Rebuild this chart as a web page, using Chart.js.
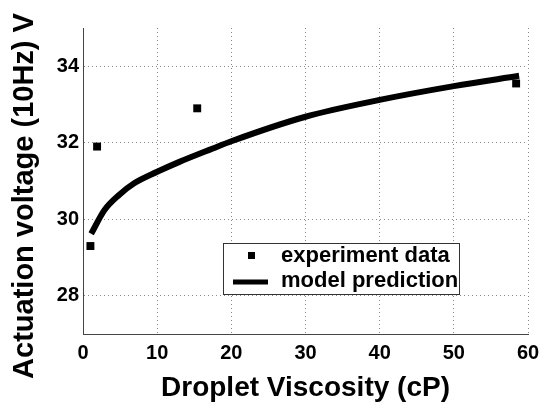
<!DOCTYPE html>
<html>
<head>
<meta charset="utf-8">
<script src="https://cdn.jsdelivr.net/npm/chart.js@4"></script>
<style>
  html, body { margin: 0; padding: 0; background: #fff; }
</style>
</head>
<body>
<canvas id="viscChart" width="549" height="407"></canvas>
<script>
// measured points
const expViscosity = [1.0, 1.9, 15.4, 58.4];
const expVoltage = [29.3, 31.9, 32.9, 33.55];

// model curve
const modelViscosity = [1.1, 2.9, 4.9, 6.9, 10, 13, 17.5, 20, 30, 40, 50, 58.8];
const modelVoltage = [29.62, 30.24, 30.64, 30.94, 31.24, 31.5, 31.85, 32.04, 32.68, 33.12, 33.48, 33.75];

const xTicks = [0, 10, 20, 30, 40, 50, 60];
const yTicks = [28, 30, 32, 34];

const FONT = '"Liberation Sans", Arial, Helvetica, sans-serif';

function toPoints(xs, ys) {
    return xs.map((x, i) => ({ x: x, y: ys[i] }));
}

// y title drawn by hand so it can sit a bit lower than the axis centre
const yTitle = {
    id: 'yTitle',
    afterDraw(chart) {
        const ctx = chart.ctx;
        ctx.save();
        ctx.translate(25, 196);
        ctx.rotate(-Math.PI / 2);
        ctx.font = 'bold 29px ' + FONT;
        ctx.fillStyle = '#000';
        ctx.textAlign = 'center';
        ctx.textBaseline = 'middle';
        ctx.fillText('Actuation voltage (10Hz) V', 0, 0);
        ctx.restore();
    }
};

// boxed legend inside the plot, like the original
const boxLegend = {
    id: 'boxLegend',
    afterDatasetsDraw(chart) {
        const ctx = chart.ctx;
        const ds = chart.data.datasets;
        const left = 223, top = 243, w = 236, h = 51;
        ctx.save();
        ctx.fillStyle = '#fff';
        ctx.fillRect(left, top, w, h);
        ctx.strokeStyle = '#333';
        ctx.lineWidth = 1;
        ctx.strokeRect(left + 0.5, top + 0.5, w, h);

        ctx.font = 'bold 22px ' + FONT;
        ctx.textAlign = 'left';
        ctx.textBaseline = 'middle';

        // row 1: square marker
        ctx.fillStyle = ds[0].backgroundColor;
        ctx.fillRect(248, 252, 7, 7);
        ctx.fillStyle = '#000';
        ctx.fillText(ds[0].label, 281, 256);

        // row 2: thick line
        ctx.strokeStyle = ds[1].borderColor;
        ctx.lineWidth = 5;
        ctx.beginPath();
        ctx.moveTo(233, 282);
        ctx.lineTo(268, 282);
        ctx.stroke();
        ctx.fillText(ds[1].label, 281, 281);
        ctx.restore();
    }
};

new Chart(document.getElementById('viscChart'), {
    type: 'scatter',
    data: {
        datasets: [
            {
                label: 'experiment data',
                data: toPoints(expViscosity, expVoltage),
                pointStyle: 'rect',
                pointRadius: 5.6,
                backgroundColor: '#000',
                borderColor: '#000',
                borderWidth: 0,
                order: 1
            },
            {
                label: 'model prediction',
                data: toPoints(modelViscosity, modelVoltage),
                showLine: true,
                borderColor: '#000',
                borderWidth: 6,
                pointRadius: 0,
                cubicInterpolationMode: 'monotone',
                order: 0
            }
        ]
    },
    options: {
        responsive: false,
        animation: false,
        devicePixelRatio: 1,
        layout: { padding: { top: 28, right: 21, left: 0, bottom: 0 } },
        plugins: {
            legend: { display: false },
            tooltip: { enabled: false }
        },
        scales: {
            x: {
                type: 'linear',
                min: 0,
                max: 60,
                afterBuildTicks: (axis) => { axis.ticks = xTicks.map(v => ({ value: v })); },
                afterFit: (axis) => { axis.height = 73; },
                ticks: {
                    color: '#000',
                    padding: 7,
                    font: { family: FONT, size: 20, weight: 'bold' }
                },
                grid: { color: '#888', drawTicks: false },
                border: { color: '#444', width: 1, dash: [1, 3] },
                title: {
                    display: true,
                    text: 'Droplet Viscosity (cP)',
                    color: '#000',
                    font: { family: FONT, size: 28, weight: 'bold' },
                    padding: { top: 0, bottom: 2 }
                }
            },
            y: {
                type: 'linear',
                min: 27,
                max: 35,
                afterBuildTicks: (axis) => { axis.ticks = yTicks.map(v => ({ value: v })); },
                afterFit: (axis) => { axis.width = 83; },
                ticks: {
                    color: '#000',
                    padding: 4,
                    font: { family: FONT, size: 20, weight: 'bold' }
                },
                grid: { color: '#888', drawTicks: false },
                border: { color: '#444', width: 1, dash: [1, 3] }
            }
        }
    },
    plugins: [yTitle, boxLegend]
});
</script>
</body>
</html>
